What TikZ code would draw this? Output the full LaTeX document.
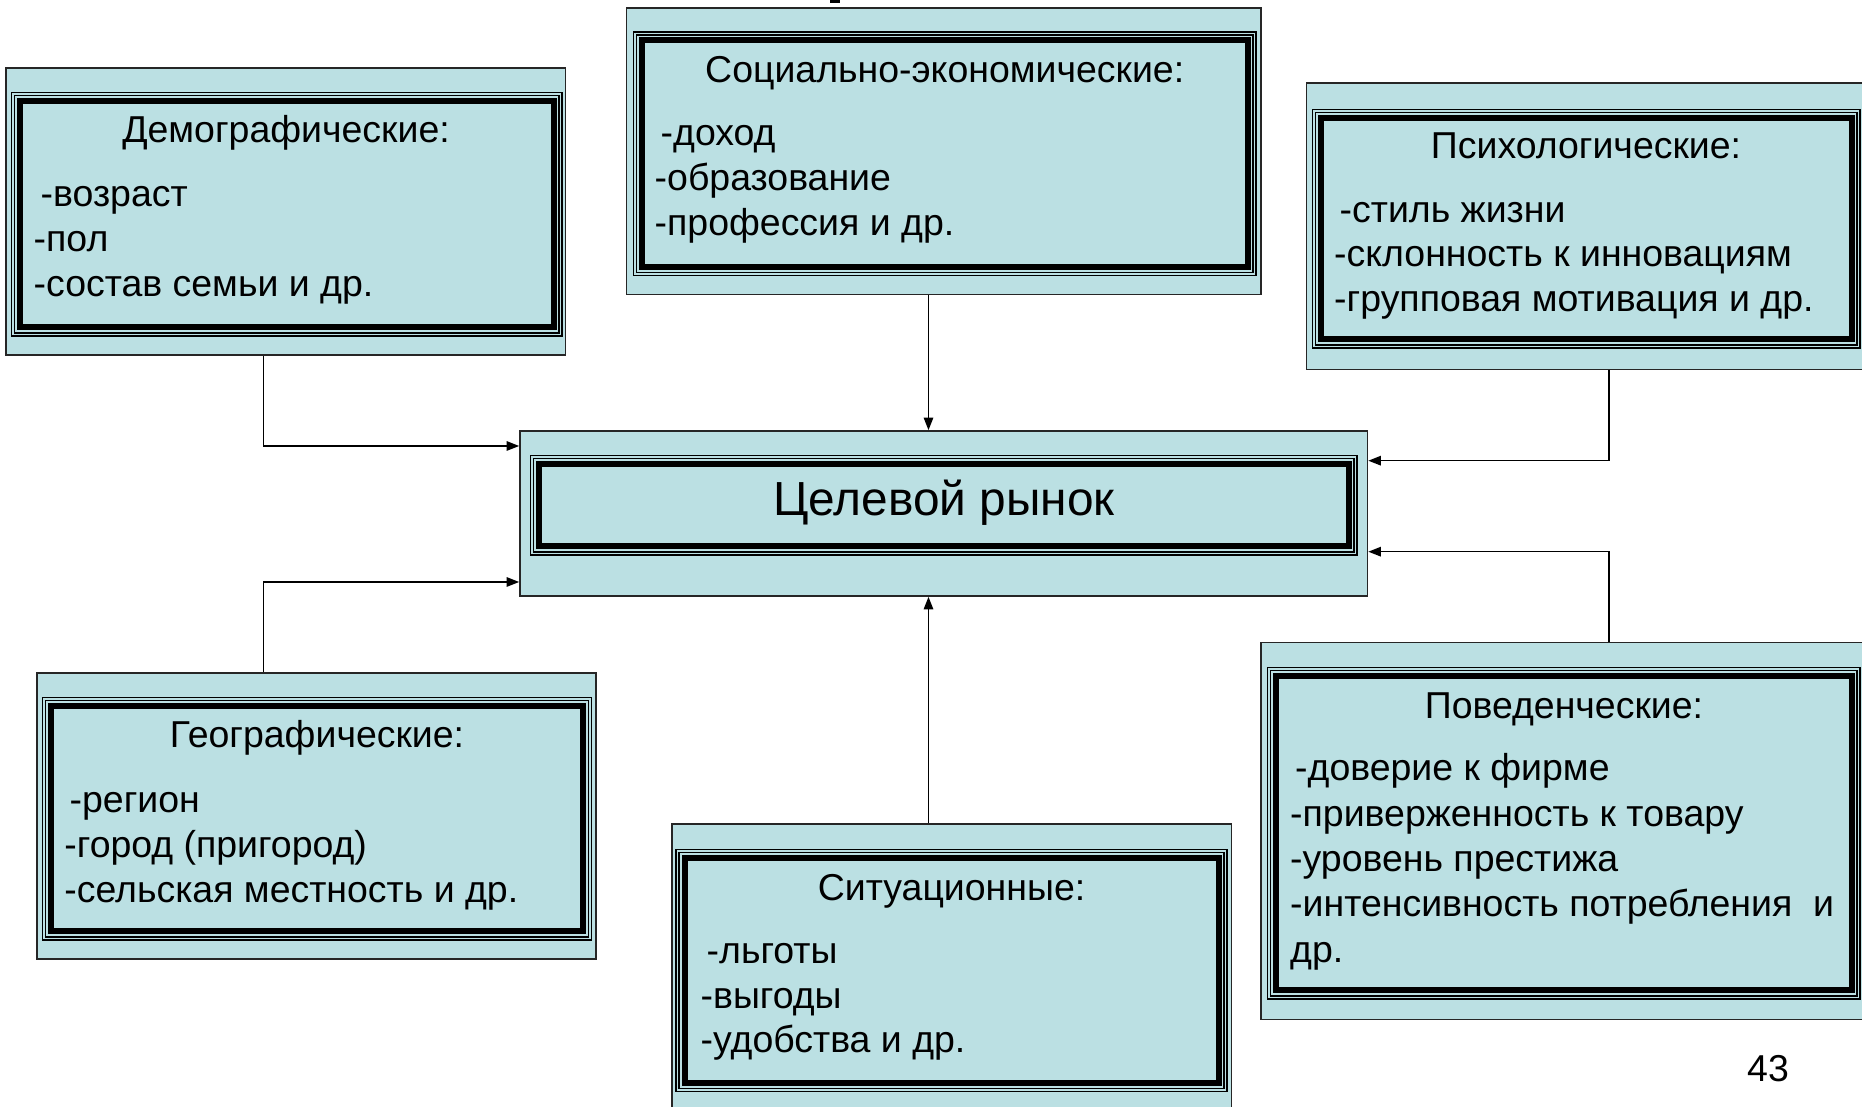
\documentclass[tikz,border=0pt]{standalone}
\usepackage{fontspec}
\setmainfont{Liberation Sans}
\usetikzlibrary{arrows.meta,fit,calc}
\definecolor{boxfill}{RGB}{187,224,227}
\newcommand\dframe[4]{%
  \draw[fthin] (#1,#2) rectangle (#3,#4);
  \draw[fthin] ({#1+3},{#2+3}) rectangle ({#3-3},{#4-3});
  \draw[fthick] ({#1+8.5},{#2+8.5}) rectangle ({#3-8.5},{#4-8.5});
}
\tikzset{
  outerbox/.style={draw=black!85, line width=0.45pt, fill=boxfill, inner sep=0pt},
  fthin/.style={draw=black, line width=0.35pt},
  fthick/.style={draw=black, line width=0.06cm, line join=miter},
  conn/.style={draw=black, line width=0.45pt, -{Triangle[length=3.6pt,width=2.7pt]}},
  ttl/.style={anchor=base, inner sep=0pt, font=\fontsize{10.65}{12.9}\selectfont},
  itm/.style={anchor=base west, inner sep=0pt, font=\fontsize{10.65}{12.9}\selectfont},
  big/.style={anchor=base, inner sep=0pt, font=\fontsize{13.6}{16}\selectfont}
}
\begin{document}
\begin{tikzpicture}[x=0.01cm,y=-0.01cm]
\useasboundingbox (0,0) rectangle (1862,1107);
\clip (0,0) rectangle (1862,1107);

% fragment of cut-off title
\fill[black] (830,0) rectangle (840,3);

% Demographic
\node[outerbox, fit={(6,68.3) (565.5,355)}] (demo) {};
\dframe{11.7}{92.5}{562}{336}
\node[ttl] (demo-t) at (286,142.5) {Демографические:};
\node[itm] (demo-1) at (40,206.5) {-возраст};
\node[itm] (demo-2) at (33,251.5) {-пол};
\node[itm] (demo-3) at (33,296.5) {-состав семьи и др.};

% Socio-economic
\node[outerbox, fit={(626.5,8.3) (1261,294.5)}] (soc) {};
\dframe{633.5}{32}{1256}{275.5}
\node[ttl] (soc-t) at (944.7,82.5) {Социально-экономические:};
\node[itm] (soc-1) at (660,145.5) {-доход};
\node[itm] (soc-2) at (654,190.5) {-образование};
\node[itm] (soc-3) at (654,235.5) {-профессия и др.};

% Psychological
\node[outerbox, fit={(1306.5,83) (1875,369.5)}] (psy) {};
\dframe{1312.5}{109.3}{1860}{348}
\node[ttl] (psy-t) at (1586,159) {Психологические:};
\node[itm] (psy-1) at (1339,222.5) {-стиль жизни};
\node[itm] (psy-2) at (1333.5,267) {-склонность к инновациям};
\node[itm] (psy-3) at (1333.5,311.5) {-групповая мотивация и др.};

% Central
\node[outerbox, fit={(520,431) (1367.5,596)}] (cen) {};
\dframe{530.5}{455.5}{1357}{555}
\node[big] (cen-t) at (944,515.5) {Целевой рынок};

% Geographic
\node[outerbox, fit={(37,673) (596,959)}] (geo) {};
\dframe{42.2}{697.7}{591.7}{940}
\node[ttl] (geo-t) at (317,747.5) {Географические:};
\node[itm] (geo-1) at (69,812.5) {-регион};
\node[itm] (geo-2) at (63.7,857.5) {-город (пригород)};
\node[itm] (geo-3) at (63.7,902.5) {-сельская местность и др.};

% Situational
\node[outerbox, fit={(672,824) (1231.5,1120)}] (sit) {};
\dframe{676}{849.3}{1227}{1091.7}
\node[ttl] (sit-t) at (951.5,901) {Ситуационные:};
\node[itm] (sit-1) at (706,964) {-льготы};
\node[itm] (sit-2) at (700,1008.5) {-выгоды};
\node[itm] (sit-3) at (700,1053) {-удобства и др.};

% Behavioural
\node[outerbox, fit={(1261,642.5) (1875,1019.5)}] (beh) {};
\dframe{1267.6}{667.7}{1860}{999}
\node[ttl] (beh-t) at (1564,718.3) {Поведенческие:};
\node[itm] (beh-1) at (1294.5,781) {-доверие к фирме};
\node[itm] (beh-2) at (1289.5,826.3) {-приверженность к товару};
\node[itm] (beh-3) at (1289.5,871.6) {-уровень престижа};
\node[itm] (beh-4) at (1289.5,916.9) {-интенсивность потребления\ \ и};
\node[itm] (beh-5) at (1289.5,962.2) {др.};

% page number
\node[ttl] (pnum) at (1768,1081.7) {43};

% connectors
\coordinate (jL1) at (263.5,446);
\coordinate (jL2) at (263.5,582);
\coordinate (jC) at (928.5,0);
\coordinate (jR1) at (1609,460.7);
\coordinate (jR2) at (1609,551.7);
\draw[conn] (demo.south -| jL1) |- (cen.west |- jL1);
\draw[conn] (soc.south -| jC) -- (cen.north -| jC);
\draw[conn] (psy.south -| jR1) |- (cen.east |- jR1);
\draw[conn] (geo.north -| jL2) |- (cen.west |- jL2);
\draw[conn] (sit.north -| jC) -- (cen.south -| jC);
\draw[conn] (beh.north -| jR2) |- (cen.east |- jR2);
\end{tikzpicture}
\end{document}
